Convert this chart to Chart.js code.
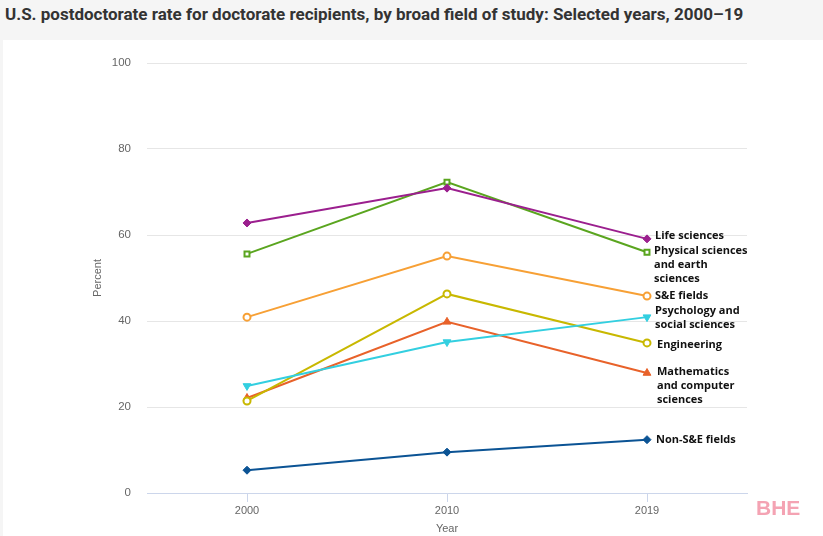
<!DOCTYPE html>
<html>
<head>
<meta charset="utf-8">
<script src="https://cdn.jsdelivr.net/npm/chart.js@4"></script>
<style>
  html, body { margin: 0; padding: 0; }
  body { width: 823px; height: 536px; background: #f5f5f5; position: relative; overflow: hidden; }
  #title {
    position: absolute; left: 5px; top: 4px;
    font-family: "Liberation Sans Narrow", Roboto, sans-serif; font-weight: bold;
    font-size: 17px; color: #333; white-space: nowrap;
  }
  #panel { position: absolute; left: 3px; top: 40px; width: 820px; height: 496px; background: #fff; }
  #logo {
    position: absolute; left: 756px; top: 496px;
    font-family: "Liberation Sans", Arial, sans-serif; font-weight: bold;
    font-size: 21px; color: #f4a3b3;
  }
</style>
</head>
<body>
<div id="title">U.S. postdoctorate rate for doctorate recipients, by broad field of study: Selected years, 2000–19</div>
<div id="panel"><canvas id="chart" width="820" height="496"></canvas></div>
<div id="logo">BHE</div>
<script>
  // 데이터
  const years = ['2000', '2010', '2019'];
  const fields = [
    'Life sciences',
    'Physical sciences and earth sciences',
    'S&E fields',
    'Psychology and social sciences',
    'Engineering',
    'Mathematics and computer sciences',
    'Non-S&E fields'
  ];
  const lifeSciences = [62.8, 70.9, 59.1];
  const physicalSciences = [55.6, 72.3, 56.0];
  const seFields = [40.9, 55.1, 45.8];
  const psychology = [24.9, 35.1, 40.9];
  const engineering = [21.4, 46.3, 34.9];
  const mathematics = [22.1, 39.8, 27.9];
  const nonSE = [5.3, 9.5, 12.4];
  const yTicks = [0, 20, 40, 60, 80, 100];

  // 라벨 줄바꿈
  const labelLines = [
    ['Life sciences'],
    ['Physical sciences', 'and earth', 'sciences'],
    ['S&E fields'],
    ['Psychology and', 'social sciences'],
    ['Engineering'],
    ['Mathematics', 'and computer', 'sciences'],
    ['Non-S&E fields']
  ];
  const labelShift = [-3, -1, 0, -6, 2, -1, 0];
  const labelDx = [8, 7, 8, 8, 10, 10, 9];

  const styles = [
    { color: '#9b1f8e', point: 'rectRot', fill: true, r: 4 },
    { color: '#5aa51f', point: 'rect', fill: false, r: 3.5 },
    { color: '#f7a035', point: 'circle', fill: false, r: 3.5 },
    { color: '#33cfe0', point: 'triangle', fill: true, r: 4.5, rot: 180 },
    { color: '#c8b800', point: 'circle', fill: false, r: 3.5 },
    { color: '#e8622a', point: 'triangle', fill: true, r: 4.5, rot: 0 },
    { color: '#0b5394', point: 'rectRot', fill: true, r: 4 }
  ];
  const series = [lifeSciences, physicalSciences, seFields, psychology, engineering, mathematics, nonSE];

  const datasets = series.map(function (vals, i) {
    var s = styles[i];
    return {
      label: fields[i],
      data: vals,
      borderColor: s.color,
      backgroundColor: s.fill ? s.color : '#ffffff',
      pointBackgroundColor: s.fill ? s.color : '#ffffff',
      pointBorderColor: s.color,
      pointBorderWidth: s.fill ? 1 : 2,
      pointStyle: s.point,
      pointRotation: s.rot || 0,
      pointRadius: s.r,
      borderWidth: 2,
      tension: 0
    };
  });

  const endLabels = {
    id: 'endLabels',
    afterDatasetsDraw: function (chart) {
      var ctx = chart.ctx;
      ctx.save();
      ctx.font = 'bold 11px "Open Sans", sans-serif';
      ctx.fillStyle = '#111';
      ctx.textBaseline = 'middle';
      ctx.textAlign = 'left';
      chart.data.datasets.forEach(function (ds, i) {
        var meta = chart.getDatasetMeta(i);
        var pt = meta.data[meta.data.length - 1];
        labelLines[i].forEach(function (line, j) {
          ctx.fillText(line, pt.x + labelDx[i], pt.y + labelShift[i] + j * 14);
        });
      });
      ctx.restore();
    }
  };

  new Chart(document.getElementById('chart'), {
    type: 'line',
    data: { labels: years, datasets: datasets },
    options: {
      responsive: false,
      animation: false,
      layout: { padding: { left: 88, right: 76, top: 23, bottom: 0 } },
      plugins: { legend: { display: false }, tooltip: { enabled: false } },
      scales: {
        x: {
          offset: true,
          grid: { drawOnChartArea: false, color: '#ccd6eb', tickLength: 9, tickColor: '#ccd6eb' },
          border: { color: '#ccd6eb' },
          ticks: { color: '#666', font: { family: '"Liberation Sans", Arial, sans-serif', size: 11 }, padding: 2 },
          title: { display: true, text: 'Year', color: '#666', font: { family: '"Liberation Sans", Arial, sans-serif', size: 11 }, padding: { top: 6, bottom: 0 } },
          afterFit: function (scale) { scale.height = 43; }
        },
        y: {
          min: 0,
          max: 100,
          afterBuildTicks: function (scale) {
            scale.ticks = yTicks.map(function (v) { return { value: v }; });
          },
          grid: { color: '#e6e6e6', drawTicks: false },
          border: { display: false },
          ticks: { color: '#666', font: { family: '"Liberation Sans", Arial, sans-serif', size: 11.5 }, padding: 16 },
          title: { display: true, text: 'Percent', color: '#666', font: { family: '"Liberation Sans", Arial, sans-serif', size: 11 }, padding: 0 },
          afterFit: function (scale) { scale.width = 56; }
        }
      }
    },
    plugins: [endLabels]
  });
</script>
</body>
</html>
